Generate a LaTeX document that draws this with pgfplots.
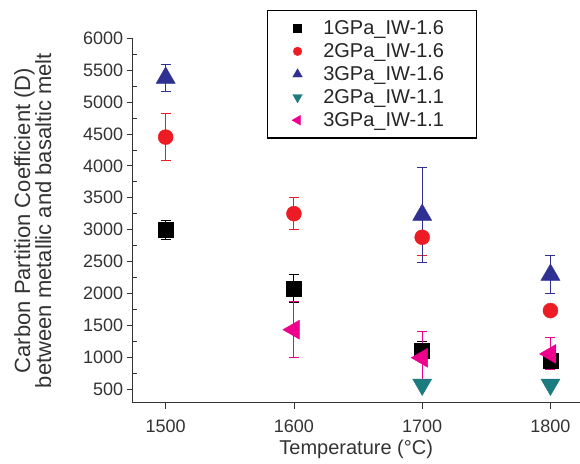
\documentclass[border=0pt]{standalone}
\usepackage{fontspec}
\setmainfont{Liberation Sans}
\usepackage{pgfplots}
\usepackage{pgfplotstable}
\pgfplotsset{compat=1.18}
\definecolor{cblack}{HTML}{000000}
\definecolor{cred}{HTML}{ED1C24}
\definecolor{cblue}{HTML}{2E3192}
\definecolor{cteal}{HTML}{1B7B7E}
\definecolor{cmag}{HTML}{EC008C}
\pgfplotstableread{
x y e
1500 3000 150
1600 2080 220
1700 1100 150
1800 950 130
}\blacktab
\pgfplotstableread{
x y e
1500 4450 370
1600 3250 250
1700 2880 290
1800 1730 0
}\redtab
\pgfplotstableread{
x y e
1500 5380 215
1700 3230 740
1800 2290 300
}\bluetab
\pgfplotstableread{
x y e
1700 570 0
1800 570 0
}\tealtab
\pgfplotstableread{
x y e
1600 1430 440
1700 990 410
1800 1050 250
}\magtab
\pgfplotsset{
  myerr/.style={
    error bars/y dir=both,
    error bars/y explicit,
    error bars/error mark=-,
    error bars/error mark options={rotate=90, mark size=5pt, line width=1pt},
    error bars/error bar style={line width=1pt},
  }
}
\begin{document}
\begin{tikzpicture}
\begin{axis}[
  name=ax,
  scale only axis,
  width=447pt, height=364.4pt,
  xmin=1474.3, xmax=1822.8,
  ymin=285, ymax=6000,
  axis lines=left,
  axis line style={-, line width=0.8pt, black!80},
  xtick={1500,1600,1700,1800},
  ytick={500,1000,...,6000},
  minor y tick num=1,
  tick align=outside,
  major tick length=6pt,
  minor tick length=4pt,
  minor y tick style={xshift=4pt},
  tick style={line width=0.7pt, black!80},
  /pgf/number format/assume math mode=true,
  /pgf/number format/1000 sep={},
  ticklabel style={font=\fontsize{18}{21}\selectfont, text=black!80},
  xticklabel style={yshift=-8pt},
  xlabel={Temperature (°C)},
  xlabel style={font=\fontsize{20}{24}\selectfont, text=black!80},
  ylabel={Carbon Partition Coefficient (D)\\between metallic and basaltic melt},
  ylabel style={font=\fontsize{22}{21}\selectfont, text=black!80, align=center, yshift=25pt},
  legend style={at={(0.30,1.078)}, anchor=north west, draw=black, line width=1.5pt,
    font=\fontsize{20}{23}\selectfont, text=black!85, cells={anchor=west}, row sep=3.5pt,
    inner xsep=24.5pt, inner ysep=8pt,
    /tikz/every odd column/.append style={column sep=19pt}},
  legend image post style={line width=0.4pt},
]
\addplot+[forget plot, myerr, only marks, color=cblack, mark=square*, mark size=7.5pt, mark options={fill=cblack, line width=0.4pt}]
  table[x=x, y=y, y error=e] {\blacktab};
\addplot+[forget plot, myerr, only marks, color=cred, mark=*, mark size=7.5pt, mark options={fill=cred, line width=0.4pt}]
  table[x=x, y=y, y error=e] {\redtab};
\addplot+[forget plot, myerr, only marks, color=cblue, mark=triangle*, mark size=11pt, mark options={fill=cblue, line width=0.4pt}]
  table[x=x, y=y, y error=e] {\bluetab};
\addplot+[forget plot, myerr, only marks, color=cteal, mark=triangle*, mark size=11pt, mark options={fill=cteal, rotate=180, line width=0.4pt}]
  table[x=x, y=y, y error=e] {\tealtab};
\addplot+[forget plot, myerr, only marks, color=cmag, mark=triangle*, mark size=11pt, mark options={fill=cmag, rotate=90, line width=0.4pt}]
  table[x=x, y=y, y error=e] {\magtab};
\addlegendimage{only marks, color=cblack, mark=square*, mark size=4pt, mark options={fill=cblack, line width=0.4pt}}
\addlegendentry{1GPa\_IW-1.6\hspace*{6pt}}
\addlegendimage{only marks, color=cred, mark=*, mark size=4.3pt, mark options={fill=cred, line width=0.4pt}}
\addlegendentry{2GPa\_IW-1.6}
\addlegendimage{only marks, color=cblue, mark=triangle*, mark size=5.5pt, mark options={fill=cblue, line width=0.4pt}}
\addlegendentry{3GPa\_IW-1.6}
\addlegendimage{only marks, color=cteal, mark=triangle*, mark size=5.5pt, mark options={fill=cteal, rotate=180, line width=0.4pt}}
\addlegendentry{2GPa\_IW-1.1}
\addlegendimage{only marks, color=cmag, mark=triangle*, mark size=5.5pt, mark options={fill=cmag, rotate=90, line width=0.4pt}}
\addlegendentry{3GPa\_IW-1.1}
\end{axis}
\pgfresetboundingbox
\path (ax.south west) ++(-132.7pt,-60.3pt) rectangle ++(580pt,463pt);
\end{tikzpicture}
\end{document}
